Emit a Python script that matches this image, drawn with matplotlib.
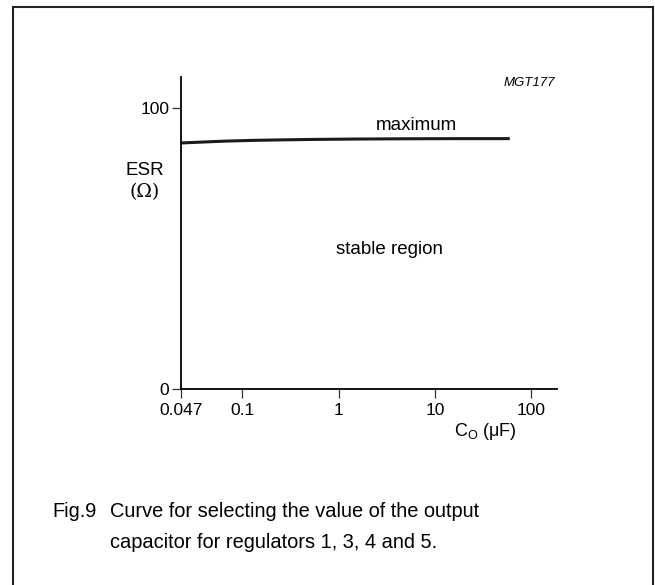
import numpy as np
import matplotlib
matplotlib.use('Agg')
import matplotlib.pyplot as plt
from matplotlib.patches import Rectangle

plt.rcParams['font.family'] = ['Liberation Sans', 'DejaVu Sans']
plt.rcParams['mathtext.fontset'] = 'custom'
plt.rcParams['mathtext.rm'] = 'Liberation Sans'

# curve "maximum"
cap_uF = [0.047, 0.06, 0.08, 0.12, 0.2, 0.5, 1.5, 5, 20, 60]
esr_ohm = [87.7, 88.0, 88.35, 88.6, 88.75, 88.95, 89.1, 89.2, 89.25, 89.25]

x_ticks = [0.047, 0.1, 1, 10, 100]
x_tick_labels = ['0.047', '0.1', '1', '10', '100']
y_ticks = [0, 100]
y_tick_labels = ['0', '100']

# the axis is logarithmic from 0.1 up, the 0.047..0.1 piece is stretched
k = 1.9414


def fwd(x):
    lx = np.log10(np.clip(x, 1e-6, None))
    return np.where(lx >= -1, lx, -1 + (lx + 1) * k)


def inv(p):
    p = np.asarray(p, dtype=float)
    return np.where(p >= -1, 10.0 ** p, 10.0 ** (-1 + (p + 1) / k))


fig = plt.figure(figsize=(6.55, 5.85), dpi=100)
ax = fig.add_axes([0.2763, 0.335, 0.5736, 0.5333])

ax.set_xscale('function', functions=(fwd, inv))
ax.plot(cap_uF, esr_ohm, color='#1a1a1a', lw=2.2, solid_capstyle='butt')

ax.set_xlim(0.047, 184)
ax.set_ylim(0, 111.2)
ax.set_xticks(x_ticks)
ax.set_xticklabels(x_tick_labels)
ax.minorticks_off()
ax.set_yticks(y_ticks)
ax.set_yticklabels(y_tick_labels)

for s in ['top', 'right']:
    ax.spines[s].set_visible(False)
for s in ['left', 'bottom']:
    ax.spines[s].set_linewidth(1.3)
    ax.spines[s].set_color('black')
ax.tick_params(direction='out', length=6.5, width=0.9, labelsize=12.5, color='#333333')
ax.tick_params(axis='x', pad=3.5)
ax.tick_params(axis='y', pad=2)

ax.text(6.5, 94.1, 'maximum', fontsize=13.5, ha='center', va='center')
ax.text(3.4, 49.6, 'stable region', fontsize=13.5, ha='center', va='center')

fig.text(0.2214, 0.7094, 'ESR', fontsize=13.5, ha='center', va='center')
fig.text(0.2214, 0.6718, '(Ω)', fontsize=13.5, ha='center', va='center',
         family=['DejaVu Serif'])
fig.text(0.7405, 0.2632, r'C$_{\mathregular{O}}$ (μF)', fontsize=13,
         ha='center', va='center')
fig.text(0.847, 0.858, 'MGT177', fontsize=9.5, style='italic',
         ha='right', va='center')

fig.text(0.0794, 0.1248, 'Fig.9', fontsize=14.4, ha='left', va='center')
fig.text(0.168, 0.1248, 'Curve for selecting the value of the output',
         fontsize=14.4, ha='left', va='center')
fig.text(0.168, 0.0735, 'capacitor for regulators 1, 3, 4 and 5.',
         fontsize=14.4, ha='left', va='center')

# frame: open at the bottom edge of the picture
fig.patches.append(Rectangle((13 / 655, -0.02), 640 / 655, 1 - 7 / 585 + 0.02,
                             transform=fig.transFigure, fill=False,
                             edgecolor='#222222', lw=1.5))

fig.savefig('out.png', dpi=100)
